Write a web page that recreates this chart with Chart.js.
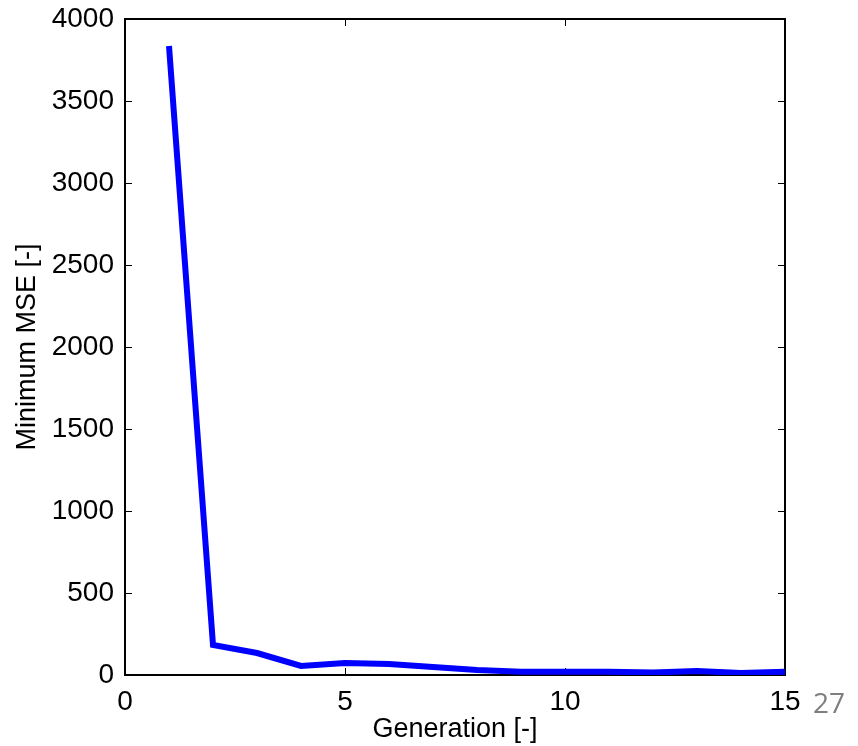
<!DOCTYPE html>
<html>
<head>
<meta charset="utf-8">
<script src="https://cdn.jsdelivr.net/npm/chart.js@4"></script>
<style>
  html, body { margin: 0; padding: 0; background: #fff; }
  #wrap { width: 858px; height: 746px; position: relative; }
</style>
</head>
<body>
<div id="wrap"><canvas id="mseChart" width="858" height="746"></canvas></div>
<script>
// Daten
const generations = [1, 2, 3, 4, 5, 6, 7, 8, 9, 10, 11, 12, 13, 14, 15];
const minMSE = [3835, 183, 134, 55, 73, 67, 49, 30, 20, 20, 20, 15, 25, 12, 20];
const xTicks = [0, 5, 10, 15];
const yTicks = [0, 500, 1000, 1500, 2000, 2500, 3000, 3500, 4000];
const pageNumber = "27";

const FONT = "'Liberation Sans', Arial, sans-serif";

// MATLAB-Box mit Ticks nach innen
const boxPlugin = {
    id: "matlabBox",
    beforeDatasetsDraw(chart){
        const {ctx, chartArea: a, scales} = chart;
        ctx.save();
        ctx.strokeStyle = "#000";
        ctx.lineWidth = 1;
        const len = 7;
        xTicks.forEach(v => {
            const px = Math.round(scales.x.getPixelForValue(v)) + 0.5;
            ctx.beginPath();
            ctx.moveTo(px, a.bottom); ctx.lineTo(px, a.bottom - len);
            ctx.moveTo(px, a.top); ctx.lineTo(px, a.top + len);
            ctx.stroke();
        });
        yTicks.forEach(v => {
            const py = Math.round(scales.y.getPixelForValue(v)) + 0.5;
            ctx.beginPath();
            ctx.moveTo(a.left, py); ctx.lineTo(a.left + len, py);
            ctx.moveTo(a.right, py); ctx.lineTo(a.right - len, py);
            ctx.stroke();
        });
        ctx.lineWidth = 2;
        ctx.strokeRect(a.left, a.top, a.right - a.left, a.bottom - a.top);
        ctx.restore();
    },
    afterDraw(chart){
        const ctx = chart.ctx;
        ctx.save();
        ctx.fillStyle = "#7f7f7f";
        ctx.font = "28px 'Open Sans', sans-serif";
        ctx.textBaseline = "alphabetic";
        ctx.textAlign = "left";
        ctx.fillText(pageNumber, 813, 713);
        ctx.restore();
    }
};

new Chart(document.getElementById("mseChart"), {
    type: "line",
    data: {
        datasets: [{
            data: generations.map((g, i) => ({x: g, y: minMSE[i]})),
            borderColor: "#0000ff",
            borderWidth: 6,
            pointRadius: 0,
            tension: 0,
            fill: false
        }]
    },
    options: {
        responsive: false,
        animation: false,
        layout: { padding: { top: 19, right: 73, left: 0, bottom: 0 } },
        plugins: { legend: { display: false }, tooltip: { enabled: false } },
        scales: {
            x: {
                type: "linear",
                min: 0, max: 15,
                afterBuildTicks: s => { s.ticks = xTicks.map(v => ({value: v})); },
                afterFit: s => { s.height = 71; s.paddingLeft = 0; s.paddingRight = 0; },
                grid: { display: false },
                border: { display: false },
                ticks: { color: "#000", font: { family: FONT, size: 28 }, padding: 2, maxRotation: 0,
                         callback: v => String(v) },
                title: { display: true, text: "Generation [-]", color: "#000", font: { family: FONT, size: 27 }, padding: { top: 0, bottom: 0 } }
            },
            y: {
                min: 0, max: 4000,
                afterBuildTicks: s => { s.ticks = yTicks.map(v => ({value: v})); },
                afterFit: s => { s.width = 125; s.paddingTop = 0; s.paddingBottom = 0; },
                grid: { display: false },
                border: { display: false },
                ticks: { color: "#000", font: { family: FONT, size: 28 }, padding: 3,
                         callback: v => String(v) },
                title: { display: true, text: "Minimum MSE [-]", color: "#000", font: { family: FONT, size: 27 }, padding: { top: 11, bottom: 0 } }
            }
        }
    },
    plugins: [boxPlugin]
});
</script>
</body>
</html>
